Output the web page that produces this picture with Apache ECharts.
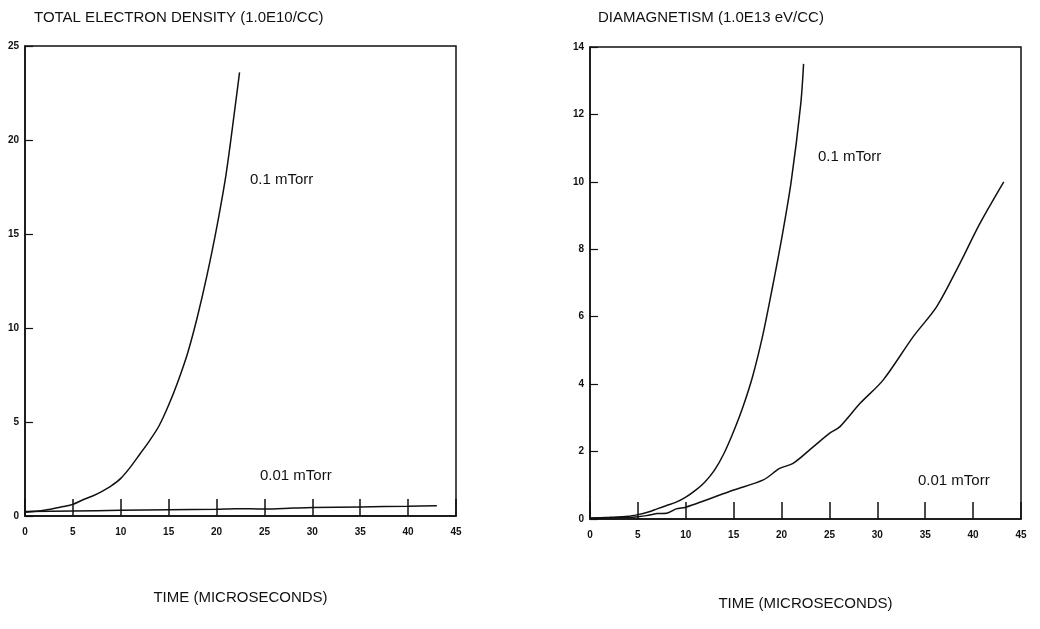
<!DOCTYPE html>
<html>
<head>
<meta charset="utf-8">
<script src="https://cdn.jsdelivr.net/npm/echarts@6/dist/echarts.min.js"></script>
<style>
  html, body { margin: 0; padding: 0; background: #fff; }
  #chart { width: 1040px; height: 629px; }
</style>
</head>
<body>
<div id="chart"></div>
<script>
// time axis ticks (microseconds)
const timeTicks = [0, 5, 10, 15, 20, 25, 30, 35, 40, 45]

// left panel: total electron density (1.0E10/cc)
const densT_hi = [0, 2, 4, 5, 6, 7, 8, 9, 10, 11, 12, 13, 14, 15, 16, 17, 18, 19, 20, 21, 22, 22.4]
const densV_hi = [0.2, 0.3, 0.5, 0.62, 0.85, 1.05, 1.3, 1.6, 2.0, 2.6, 3.3, 4.0, 4.8, 5.9, 7.2, 8.7, 10.6, 12.8, 15.3, 18.2, 22.0, 23.6]
const densT_lo = [0, 5, 10, 15, 20, 22, 25, 28, 30, 35, 40, 43]
const densV_lo = [0.24, 0.27, 0.3, 0.33, 0.36, 0.39, 0.37, 0.42, 0.45, 0.48, 0.52, 0.55]

// right panel: diamagnetism (1.0E13 eV/cc)
const diaT_hi = [0, 2, 4, 5, 6, 7, 8, 9, 10, 11, 12, 13, 14, 15, 16, 17, 18, 19, 20, 21, 22, 22.3]
const diaV_hi = [0.03, 0.05, 0.08, 0.13, 0.2, 0.3, 0.4, 0.5, 0.65, 0.85, 1.1, 1.45, 1.95, 2.6, 3.35, 4.25, 5.4, 6.8, 8.3, 10.0, 12.3, 13.5]
const diaT_lo = [0, 2, 4, 5, 5.9, 7, 8, 9, 10, 12, 15, 18.1, 19.8, 21.2, 23.3, 25, 26.1, 28.2, 30.6, 33.75, 36.2, 38.6, 40.7, 43.2]
const diaV_lo = [0.02, 0.03, 0.05, 0.07, 0.1, 0.16, 0.17, 0.3, 0.35, 0.55, 0.86, 1.16, 1.5, 1.65, 2.14, 2.54, 2.74, 3.43, 4.12, 5.41, 6.3, 7.57, 8.76, 10.0]

const ink = '#111'
const font = 'Liberation Sans'

function pairs(xs, ys) {
  return xs.map((x, i) => [x, ys[i]])
}

function timeAxis(gridIndex, nameGap) {
  return {
    type: 'value',
    gridIndex: gridIndex,
    min: 0,
    max: 45,
    interval: 5,
    name: 'TIME (MICROSECONDS)',
    nameLocation: 'middle',
    nameGap: nameGap,
    nameTextStyle: { color: ink, fontFamily: font, fontSize: 15 },
    axisLine: { show: true, lineStyle: { color: ink, width: 1.5 } },
    axisTick: { show: true, inside: true, length: 17, lineStyle: { color: ink, width: 1.5 } },
    axisLabel: { color: ink, fontFamily: font, fontSize: 10, fontWeight: 'bold', margin: 11,
      formatter: v => timeTicks.includes(v) ? String(v) : '' },
    splitLine: { show: false }
  }
}

function valueAxis(gridIndex, max, interval) {
  return {
    type: 'value',
    gridIndex: gridIndex,
    min: 0,
    max: max,
    interval: interval,
    axisLine: { show: true, lineStyle: { color: ink, width: 1.5 } },
    axisTick: { show: true, inside: true, length: 8, lineStyle: { color: ink, width: 1.2 } },
    axisLabel: { color: ink, fontFamily: font, fontSize: 10, fontWeight: 'bold', margin: 6 },
    splitLine: { show: false }
  }
}

function curve(xi, data) {
  return {
    type: 'line',
    xAxisIndex: xi,
    yAxisIndex: xi,
    data: data,
    smooth: 0.3,
    showSymbol: false,
    lineStyle: { color: ink, width: 1.5 },
    silent: true,
    animation: false
  }
}

function note(text, left, top) {
  return {
    type: 'text',
    left: left,
    top: top,
    style: { text: text, fill: ink, font: '15px "' + font + '"' }
  }
}

const chart = echarts.init(document.getElementById('chart'))

chart.setOption({
  backgroundColor: '#fff',
  animation: false,
  title: [
    { text: 'TOTAL ELECTRON DENSITY (1.0E10/CC)', left: 29, top: 5,
      textStyle: { color: ink, fontFamily: font, fontSize: 15, fontWeight: 'normal' } },
    { text: 'DIAMAGNETISM (1.0E13 eV/CC)', left: 593, top: 5,
      textStyle: { color: ink, fontFamily: font, fontSize: 15, fontWeight: 'normal' } }
  ],
  grid: [
    { left: 25, top: 46, width: 431, height: 470, show: true, borderColor: ink, borderWidth: 1.5 },
    { left: 590, top: 47, width: 431, height: 472, show: true, borderColor: ink, borderWidth: 1.5 }
  ],
  xAxis: [timeAxis(0, 74), timeAxis(1, 77)],
  yAxis: [valueAxis(0, 25, 5), valueAxis(1, 14, 2)],
  series: [
    curve(0, pairs(densT_hi, densV_hi)),
    curve(0, pairs(densT_lo, densV_lo)),
    curve(1, pairs(diaT_hi, diaV_hi)),
    curve(1, pairs(diaT_lo, diaV_lo))
  ],
  graphic: [
    note('0.1 mTorr', 250, 172),
    note('0.01 mTorr', 260, 468),
    note('0.1 mTorr', 818, 149),
    note('0.01 mTorr', 918, 473)
  ]
})
</script>
</body>
</html>
